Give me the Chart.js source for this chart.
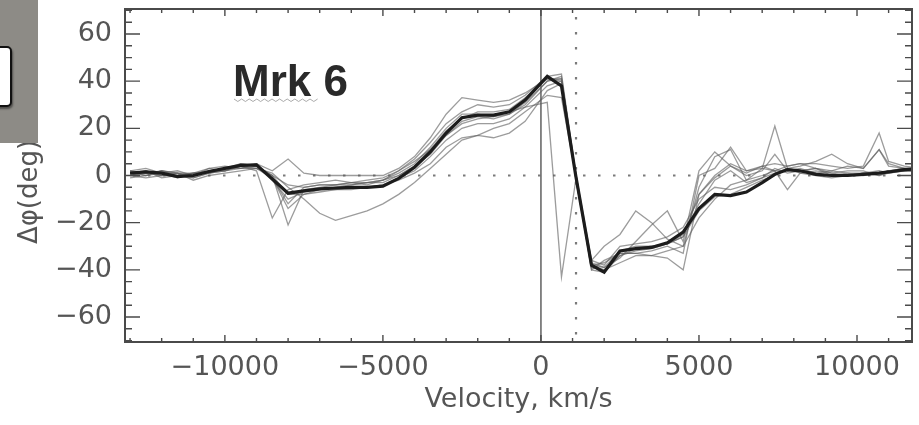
<!DOCTYPE html>
<html><head><meta charset="utf-8">
<script src="https://cdn.jsdelivr.net/npm/chart.js@4.4.1/dist/chart.umd.min.js"></script>
<style>
html,body{margin:0;padding:0;background:#fff;}
#wrap{position:relative;width:919px;height:425px;overflow:hidden;}
canvas{display:block;}
#grayBox{position:absolute;left:0;top:0;width:38px;height:143px;background:#8d8b86;}
#whiteTab{position:absolute;left:-8px;top:46px;width:16px;height:57px;background:#fff;border:2px solid #111;border-radius:5px;box-shadow:1px 2px 2px rgba(0,0,0,0.45);}
</style></head>
<body><div id="wrap"><canvas id="c" width="919" height="425"></canvas><div id="grayBox"></div><div id="whiteTab"></div></div>
<script>
// ---- data (velocity in km/s, phase difference in deg) ----
const velocity = [-13000,-12500,-12000,-11500,-11000,-10500,-10000,-9500,-9000,-8500,-8000,-7500,-7000,-6500,-6000,-5500,-5000,-4500,-4000,-3500,-3000,-2500,-2000,-1500,-1000,-500,200,650,1100,1600,2000,2500,3000,3500,4000,4500,5000,5500,6000,6500,7000,7400,7800,8200,8700,9200,9700,10200,10700,11000,11500,12000];
const meanPhi = [1,1.5,1,-0.5,0,1.7,3,4.3,4.5,-1.5,-7.5,-6.5,-5.7,-5.3,-5,-5,-4.5,-1.2,3.5,10,18,24.5,25.6,25.6,27,32,42,38,0,-38,-41,-32,-31,-30.5,-28.5,-24,-14,-8,-8.5,-7,-3,0.5,2.5,2,0.5,0,0,0.5,1,1.5,2.5,3];
const phi1 = [2,0,2,1,-1,1,2,3,3,0,-4,-5,-4,-4,-3,-2,-1,2,6,11,17,22,24,25,27,29,31,-43,-2,-36,-38,-30,-29,-28,-26,-22,-10,-5,-6,-4,-1,1,3,2,1,0,1,1,1,2,2,2];
const phi2 = [0,2,-1,0,1,2,2,4,2,-18,-6,-4,-3,-2,-3,-4,-2,1,5,12,20,26,26,25,26,30,40,41,1,-40,-36,-33,-33,-32,-30,-33,0,3,12,2,4,2,2,3,1,2,1,0,1,2,3,3];
const phi3 = [1,0,2,0,-1,1,3,5,4,0,-21,-6,-5,-4,-4,-3,-3,0,4,9,17,23,25,24,26,31,40,42,-1,-39,-40,-34,-32,-31,-29,-25,-12,-2,2,-3,-1,3,1,2,3,0,0,1,0,1,2,2];
const phi4 = [0,1,2,1,0,2,3,4,3,1,-5,-10,-16,-19,-17,-15,-12,-8,-3,3,9,15,17,16,18,23,36,39,0,-37,-39,-32,-30,-30,-29,-26,-15,-9,-8,-5,-2,0,3,1,0,-1,0,1,1,2,3,2];
const phi5 = [2,3,1,2,0,3,4,3,5,2,7,1,0,0,0,0,0,3,8,16,26,33,32,31,32,35,41,40,0,-38,-37,-33,-33,-34,-35,-40,-8,0,5,2,3,2,4,5,5,4,3,4,18,6,4,3];
const phi6 = [-1,0,1,-1,1,3,2,4,5,-2,-10,-7,-6,-6,-5,-5,-4,-1,2,8,15,20,22,22,24,29,38,40,1,-36,-30,-25,-15,-20,-27,-30,-5,8,11,-2,3,21,3,4,6,9,5,3,11,5,3,2];
const phi7 = [1,2,0,1,1,1,3,3,4,0,-8,-8,-6,-5,-4,-3,-2,0,4,11,19,24,27,27,28,33,41,41,-1,-38,-39,-35,-28,-21,-15,-28,2,10,4,0,2,9,2,2,3,1,2,2,0,2,2,2];
const phi8 = [0,-1,0,1,-2,0,1,2,3,-1,-14,-8,-7,-6,-6,-5,-4,-2,1,5,12,16,17,20,22,27,34,33,0,-38,-40,-37,-34,-34,-32,-30,-18,-10,-4,-2,0,2,-6,1,2,1,0,1,2,1,2,3];
const phi9 = [2,1,0,0,1,1,2,5,4,-1,-12,-5,-4,-4,-3,-3,-2,2,7,14,22,27,30,29,30,34,42,43,1,-40,-41,-34,-31,-30,-29,-26,-8,-1,4,1,4,5,4,5,3,2,4,3,11,4,3,3];
const individualSeries = [phi1,phi2,phi3,phi4,phi5,phi6,phi7,phi8,phi9];
const xTickValues = [-10000,-5000,0,5000,10000];
const yTickValues = [-60,-40,-20,0,20,40,60];
const systemicVelocity = 0;
const markerVelocity = 1110;
const zeroPhase = 0;
const panelLabel = 'Mrk 6';
const xTitle = 'Velocity, km/s';
const yTitle = 'Δφ(deg)';

const FONT = '"DejaVu Sans", sans-serif';
const AX = '#4a4a4a';

function pts(arr){ return velocity.map((v,i)=>({x:v,y:arr[i]})); }

const datasets = [{
  data: pts(meanPhi), borderColor:'#1c1c1c', borderWidth:3.2, pointRadius:0, tension:0, clip:0
}].concat(individualSeries.map(a=>({
  data: pts(a), borderColor:'rgba(95,95,95,0.62)', borderWidth:1.3, pointRadius:0, tension:0, clip:0
})));

const decor = {
  id:'decor',
  beforeDatasetsDraw(chart){
    const {ctx, chartArea:a, scales:{x,y}} = chart;
    ctx.save();
    ctx.strokeStyle='#7a7a7a'; ctx.lineWidth=2.2; ctx.setLineDash([2.5,12.5]);
    const y0=y.getPixelForValue(zeroPhase);
    ctx.beginPath(); ctx.moveTo(a.left+8,y0); ctx.lineTo(a.right,y0); ctx.stroke();
    const xm=x.getPixelForValue(markerVelocity);
    ctx.beginPath(); ctx.moveTo(xm,a.top+8); ctx.lineTo(xm,a.bottom); ctx.stroke();
    ctx.setLineDash([]);
    ctx.strokeStyle='#6a6a6a'; ctx.lineWidth=1.6;
    const xs=x.getPixelForValue(systemicVelocity);
    ctx.beginPath(); ctx.moveTo(xs,a.top); ctx.lineTo(xs,a.bottom); ctx.stroke();
    ctx.restore();
  },
  afterDraw(chart){
    const {ctx, chartArea:a, scales:{x,y}} = chart;
    ctx.save();
    // frame
    ctx.strokeStyle=AX; ctx.lineWidth=2;
    ctx.strokeRect(a.left,a.top,a.right-a.left,a.bottom-a.top);
    // inward ticks
    ctx.lineWidth=1.4;
    ctx.beginPath();
    for(let v=-13000; v<=12000; v+=1000){
      const px=x.getPixelForValue(v);
      if(px<a.left||px>a.right) continue;
      const L = (v%5000===0)?7:4;
      ctx.moveTo(px,a.bottom); ctx.lineTo(px,a.bottom-L);
      ctx.moveTo(px,a.top); ctx.lineTo(px,a.top+L);
    }
    for(let v=-70; v<=70; v+=5){
      const py=y.getPixelForValue(v);
      if(py<a.top||py>a.bottom) continue;
      const L = (v%20===0)?15:7;
      ctx.moveTo(a.left,py); ctx.lineTo(a.left+L,py);
      ctx.moveTo(a.right,py); ctx.lineTo(a.right-L,py);
    }
    ctx.stroke();
    // panel label
    ctx.fillStyle='#2a2a2a';
    ctx.font='bold 44px "Liberation Sans", Arial, sans-serif';
    ctx.textBaseline='alphabetic'; ctx.textAlign='left';
    ctx.fillText(panelLabel, 233, 96);
    // wavy underline under "Mrk"
    ctx.strokeStyle='rgba(150,150,150,0.8)'; ctx.lineWidth=1;
    ctx.beginPath();
    for(let i=0;i<=22;i++){ const px=234+i*3.8; const py=100+(i%2?1.5:-1); if(i===0) ctx.moveTo(px,py); else ctx.lineTo(px,py); }
    ctx.stroke();
    // axis titles
    ctx.fillStyle='#555';
    ctx.font='27px '+FONT;
    ctx.textAlign='center'; ctx.textBaseline='middle';
    ctx.fillText(xTitle, (a.left+a.right)/2, 400);
    ctx.translate(30,192); ctx.rotate(-Math.PI/2);
    ctx.font='26px '+FONT;
    ctx.fillText(yTitle,0,0);
    ctx.restore();
  }
};

new Chart(document.getElementById('c'),{
  type:'line',
  data:{datasets},
  options:{
    responsive:false, animation:false, devicePixelRatio:1,
    layout:{padding:{top:9,right:7,left:0,bottom:0}},
    plugins:{legend:{display:false},tooltip:{enabled:false}},
    scales:{
      x:{type:'linear',min:-13160,max:11740,
        grid:{display:false,drawTicks:false},border:{display:false},
        afterBuildTicks:s=>{s.ticks=xTickValues.map(v=>({value:v}));},
        afterFit:s=>{s.height=83;s.paddingLeft=0;s.paddingRight=0;},
        ticks:{padding:10,color:'#555',font:{family:FONT,size:27},maxRotation:0,autoSkip:false,
          callback:v=>v<0?'\u2212'+Math.abs(v):String(v)}},
      y:{type:'linear',min:-70.6,max:70.6,
        grid:{display:false,drawTicks:false},border:{display:false},
        afterBuildTicks:s=>{s.ticks=yTickValues.map(v=>({value:v}));},
        afterFit:s=>{s.width=125;s.paddingTop=0;s.paddingBottom=0;},
        ticks:{padding:13,color:'#555',font:{family:FONT,size:27},autoSkip:false,
          callback:v=>v<0?'\u2212'+Math.abs(v):String(v)}}
    }
  },
  plugins:[decor]
});
</script>
</body></html>
